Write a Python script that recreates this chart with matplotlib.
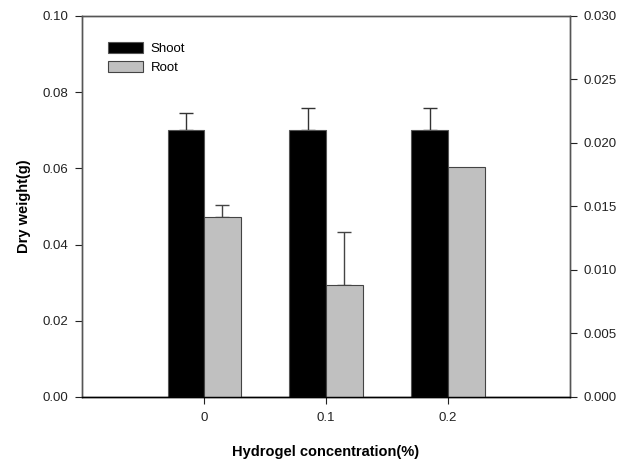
import matplotlib.pyplot as plt
import numpy as np

plt.rcParams['font.family'] = ['Liberation Sans', 'DejaVu Sans']

concentrations = ['0', '0.1', '0.2']
shoot = [0.070, 0.070, 0.070]
shoot_err = [0.0045, 0.0058, 0.0058]
root = [0.0142, 0.0088, 0.0181]
root_err = [0.0009, 0.0042, 0.0]

x = np.arange(len(concentrations))
w = 0.3

fig = plt.figure(figsize=(6.27, 4.67), dpi=100)
ax = fig.add_axes([0.131, 0.150, 0.778, 0.816])
ax2 = ax.twinx()

b1 = ax.bar(x - w / 2, shoot, w, color='black', edgecolor='#555555', linewidth=0.8,
            label='Shoot', zorder=2)
b2 = ax2.bar(x + w / 2, root, w, color='#c0c0c0', edgecolor='#444444', linewidth=0.8,
             label='Root', zorder=2)

# upward-only error bars, skipped where the error is zero
ekw = dict(fmt='none', elinewidth=1, capsize=5, capthick=1, zorder=1)
se = np.array(shoot_err)
m = se > 0
ax.errorbar((x - w / 2)[m], np.array(shoot)[m], yerr=[np.zeros(m.sum()), se[m]],
            ecolor='#333333', **ekw)
re_ = np.array(root_err)
m = re_ > 0
ax2.errorbar((x + w / 2)[m], np.array(root)[m], yerr=[np.zeros(m.sum()), re_[m]],
             ecolor='#444444', **ekw)

ax.set_xlim(-1, 3)
ax.set_ylim(0, 0.10)
ax2.set_ylim(0, 0.030)
ax.set_xticks(x)
ax.set_xticklabels(concentrations)
ax.set_yticks(np.arange(0, 0.101, 0.02))
ax.set_yticklabels(['%.2f' % v for v in np.arange(0, 0.101, 0.02)])
ax2.set_yticks(np.arange(0, 0.0301, 0.005))
ax2.set_yticklabels(['%.3f' % v for v in np.arange(0, 0.0301, 0.005)])

for a in (ax, ax2):
    a.tick_params(direction='out', length=5, width=0.8, labelsize=9.5, colors='#222222', pad=5)
    for s in a.spines.values():
        s.set_color('#555555')
        s.set_linewidth(1)
    a.spines['bottom'].set_color('black')
ax.tick_params(axis='x', pad=6)

ax.set_xlabel('Hydrogel concentration(%)', fontsize=10.5, fontweight='bold', labelpad=15)
ax.set_ylabel('Dry weight(g)', fontsize=10.5, fontweight='bold', labelpad=8)

ax.legend([b1, b2], ['Shoot', 'Root'], loc='upper left', bbox_to_anchor=(0.035, 0.955),
          frameon=False, fontsize=9.5, handlelength=2.6, handleheight=0.9,
          handletextpad=0.6, labelspacing=0.45, borderpad=0.2)

plt.savefig('out.png', dpi=100)
